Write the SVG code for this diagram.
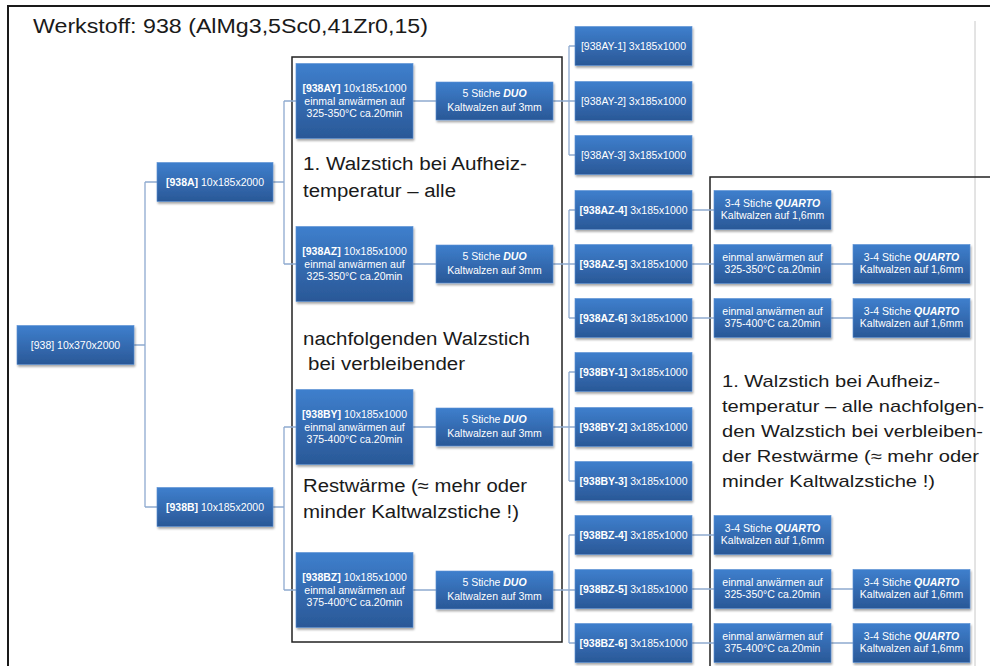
<svg xmlns="http://www.w3.org/2000/svg" width="990" height="666" viewBox="0 0 990 666">
<defs>
<linearGradient id="g" x1="0" y1="0" x2="0" y2="1">
<stop offset="0" stop-color="#3e7fcd"/>
<stop offset="1" stop-color="#2a5897"/>
</linearGradient>
<filter id="sh" x="-10%" y="-10%" width="125%" height="135%">
<feDropShadow dx="1" dy="2" stdDeviation="1.2" flood-color="#000" flood-opacity="0.35"/>
</filter>
<style>
.box{fill:url(#g);stroke:#5b90d3;stroke-width:0.6;filter:url(#sh)}
.t{font-family:"Liberation Sans",Arial,sans-serif;font-size:10.5px;fill:#fff;text-anchor:middle}
.b{font-weight:bold}
.bi{font-weight:bold;font-style:italic}
.con{stroke:#8eaad0;stroke-width:1.3;fill:none}
.big{font-family:"Liberation Sans",Arial,sans-serif;font-size:18px;fill:#1a1a1a}
.big2{font-family:"Liberation Sans",Arial,sans-serif;font-size:17px;fill:#1a1a1a}
.frame{fill:none;stroke:#1a1a1a;stroke-width:2}
.frame2{fill:none;stroke:#222;stroke-width:1.5}
</style>
</defs>
<rect x="0" y="0" width="990" height="666" fill="#fff"/>
<path class="frame" d="M8,666 V6 H990"/>
<line x1="975" y1="21" x2="975" y2="666" stroke="#c8c8c8" stroke-width="1"/>
<text class="big" x="33" y="33" textLength="395" lengthAdjust="spacingAndGlyphs" style="font-size:20px">Werkstoff: 938 (AlMg3,5Sc0,41Zr0,15)</text>

<rect class="frame2" x="292" y="57" width="270" height="585"/>
<path class="frame2" d="M990,177 H710 V666"/>

<g id="connectors">
<path class="con" d="M134,345 H145 M145,182 V507 M145,182 H157 M145,507 H157"/>
<path class="con" d="M273,182 H284 M284,101 V264 M284,101 H296 M284,264 H296"/>
<path class="con" d="M273,507 H284 M284,427 V590 M284,427 H296 M284,590 H296"/>
<path class="con" d="M413,101 H436 M413,264 H436 M413,427 H436 M413,590 H436"/>
<path class="con" d="M553,101 H569 M569,46 V155 M569,46 H575 M569,101 H575 M569,155 H575"/>
<path class="con" d="M553,264 H569 M569,210 V318 M569,210 H575 M569,264 H575 M569,318 H575"/>
<path class="con" d="M553,427 H569 M569,372 V481 M569,372 H575 M569,427 H575 M569,481 H575"/>
<path class="con" d="M553,590 H569 M569,535 V643 M569,535 H575 M569,590 H575 M569,643 H575"/>
<path class="con" d="M692,210 H714 M692,264 H714 M692,318 H714 M692,535 H714 M692,589 H714 M692,643 H714"/>
<path class="con" d="M831,264 H853 M831,318 H853 M831,589 H853 M831,643 H853"/>
</g>

<g id="n938"><rect class="box" x="17" y="325.5" width="117" height="39"/><text class="t" x="75.5" y="348.5">[938] 10x370x2000</text></g>
<g id="n938A"><rect class="box" x="157" y="162.5" width="116" height="39"/><text class="t" x="215" y="185.5"><tspan class="b">[938A]</tspan> 10x185x2000</text></g>
<g id="n938B"><rect class="box" x="157" y="487.5" width="116" height="39"/><text class="t" x="215" y="510.5"><tspan class="b">[938B]</tspan> 10x185x2000</text></g>

<g id="n938AY"><rect class="box" x="296" y="63.5" width="117" height="75"/><text class="t" x="354.5" y="92"><tspan class="b">[938AY]</tspan> 10x185x1000</text><text class="t" x="354.5" y="104.5">einmal anwärmen auf</text><text class="t" x="354.5" y="117">325-350°C ca.20min</text></g>
<g id="n938AZ"><rect class="box" x="296" y="226.5" width="117" height="75"/><text class="t" x="354.5" y="255"><tspan class="b">[938AZ]</tspan> 10x185x1000</text><text class="t" x="354.5" y="267.5">einmal anwärmen auf</text><text class="t" x="354.5" y="280">325-350°C ca.20min</text></g>
<g id="n938BY"><rect class="box" x="296" y="389.5" width="117" height="75"/><text class="t" x="354.5" y="418"><tspan class="b">[938BY]</tspan> 10x185x1000</text><text class="t" x="354.5" y="430.5">einmal anwärmen auf</text><text class="t" x="354.5" y="443">375-400°C ca.20min</text></g>
<g id="n938BZ"><rect class="box" x="296" y="552.5" width="117" height="75"/><text class="t" x="354.5" y="581"><tspan class="b">[938BZ]</tspan> 10x185x1000</text><text class="t" x="354.5" y="593.5">einmal anwärmen auf</text><text class="t" x="354.5" y="606">375-400°C ca.20min</text></g>

<g id="duoAY"><rect class="box" x="436" y="82" width="117" height="38"/><text class="t" x="494.5" y="97">5 Stiche <tspan class="bi">DUO</tspan></text><text class="t" x="494.5" y="110.5">Kaltwalzen auf 3mm</text></g>
<g id="duoAZ"><rect class="box" x="436" y="245" width="117" height="38"/><text class="t" x="494.5" y="260">5 Stiche <tspan class="bi">DUO</tspan></text><text class="t" x="494.5" y="273.5">Kaltwalzen auf 3mm</text></g>
<g id="duoBY"><rect class="box" x="436" y="408" width="117" height="38"/><text class="t" x="494.5" y="423">5 Stiche <tspan class="bi">DUO</tspan></text><text class="t" x="494.5" y="436.5">Kaltwalzen auf 3mm</text></g>
<g id="duoBZ"><rect class="box" x="436" y="571" width="117" height="38"/><text class="t" x="494.5" y="586">5 Stiche <tspan class="bi">DUO</tspan></text><text class="t" x="494.5" y="599.5">Kaltwalzen auf 3mm</text></g>

<g id="AY1"><rect class="box" x="575" y="26.5" width="117" height="39"/><text class="t" x="633.5" y="49.5">[938AY-1] 3x185x1000</text></g>
<g id="AY2"><rect class="box" x="575" y="81.5" width="117" height="39"/><text class="t" x="633.5" y="104.5">[938AY-2] 3x185x1000</text></g>
<g id="AY3"><rect class="box" x="575" y="135.5" width="117" height="39"/><text class="t" x="633.5" y="158.5">[938AY-3] 3x185x1000</text></g>
<g id="AZ4"><rect class="box" x="575" y="190.5" width="117" height="39"/><text class="t" x="633.5" y="213.5"><tspan class="b">[938AZ-4]</tspan> 3x185x1000</text></g>
<g id="AZ5"><rect class="box" x="575" y="244.5" width="117" height="39"/><text class="t" x="633.5" y="267.5"><tspan class="b">[938AZ-5]</tspan> 3x185x1000</text></g>
<g id="AZ6"><rect class="box" x="575" y="298.5" width="117" height="39"/><text class="t" x="633.5" y="321.5"><tspan class="b">[938AZ-6]</tspan> 3x185x1000</text></g>
<g id="BY1"><rect class="box" x="575" y="352.5" width="117" height="39"/><text class="t" x="633.5" y="375.5"><tspan class="b">[938BY-1]</tspan> 3x185x1000</text></g>
<g id="BY2"><rect class="box" x="575" y="407.5" width="117" height="39"/><text class="t" x="633.5" y="430.5"><tspan class="b">[938BY-2]</tspan> 3x185x1000</text></g>
<g id="BY3"><rect class="box" x="575" y="461.5" width="117" height="39"/><text class="t" x="633.5" y="484.5"><tspan class="b">[938BY-3]</tspan> 3x185x1000</text></g>
<g id="BZ4"><rect class="box" x="575" y="515.5" width="117" height="39"/><text class="t" x="633.5" y="538.5"><tspan class="b">[938BZ-4]</tspan> 3x185x1000</text></g>
<g id="BZ5"><rect class="box" x="575" y="569.5" width="117" height="39"/><text class="t" x="633.5" y="592.5"><tspan class="b">[938BZ-5]</tspan> 3x185x1000</text></g>
<g id="BZ6"><rect class="box" x="575" y="623.5" width="117" height="39"/><text class="t" x="633.5" y="646.5"><tspan class="b">[938BZ-6]</tspan> 3x185x1000</text></g>

<g id="qAZ4"><rect class="box" x="714" y="190.5" width="117" height="39"/><text class="t" x="772.5" y="206.5">3-4 Stiche <tspan class="bi">QUARTO</tspan></text><text class="t" x="772.5" y="218.5">Kaltwalzen auf 1,6mm</text></g>
<g id="hAZ5"><rect class="box" x="714" y="244.5" width="117" height="39"/><text class="t" x="772.5" y="260.5">einmal anwärmen auf</text><text class="t" x="772.5" y="272.5">325-350°C ca.20min</text></g>
<g id="hAZ6"><rect class="box" x="714" y="298.5" width="117" height="39"/><text class="t" x="772.5" y="314.5">einmal anwärmen auf</text><text class="t" x="772.5" y="326.5">375-400°C ca.20min</text></g>
<g id="qBZ4"><rect class="box" x="714" y="515.5" width="117" height="39"/><text class="t" x="772.5" y="531.5">3-4 Stiche <tspan class="bi">QUARTO</tspan></text><text class="t" x="772.5" y="543.5">Kaltwalzen auf 1,6mm</text></g>
<g id="hBZ5"><rect class="box" x="714" y="569.5" width="117" height="39"/><text class="t" x="772.5" y="585.5">einmal anwärmen auf</text><text class="t" x="772.5" y="597.5">325-350°C ca.20min</text></g>
<g id="hBZ6"><rect class="box" x="714" y="623.5" width="117" height="39"/><text class="t" x="772.5" y="639.5">einmal anwärmen auf</text><text class="t" x="772.5" y="651.5">375-400°C ca.20min</text></g>

<g id="qAZ5"><rect class="box" x="853" y="244.5" width="117" height="39"/><text class="t" x="911.5" y="260.5">3-4 Stiche <tspan class="bi">QUARTO</tspan></text><text class="t" x="911.5" y="272.5">Kaltwalzen auf 1,6mm</text></g>
<g id="qAZ6"><rect class="box" x="853" y="298.5" width="117" height="39"/><text class="t" x="911.5" y="314.5">3-4 Stiche <tspan class="bi">QUARTO</tspan></text><text class="t" x="911.5" y="326.5">Kaltwalzen auf 1,6mm</text></g>
<g id="qBZ5"><rect class="box" x="853" y="569.5" width="117" height="39"/><text class="t" x="911.5" y="585.5">3-4 Stiche <tspan class="bi">QUARTO</tspan></text><text class="t" x="911.5" y="597.5">Kaltwalzen auf 1,6mm</text></g>
<g id="qBZ6"><rect class="box" x="853" y="623.5" width="117" height="39"/><text class="t" x="911.5" y="639.5">3-4 Stiche <tspan class="bi">QUARTO</tspan></text><text class="t" x="911.5" y="651.5">Kaltwalzen auf 1,6mm</text></g>

<g id="note-middle">
<text class="big" x="303" y="170" textLength="224" lengthAdjust="spacingAndGlyphs">1. Walzstich bei Aufheiz-</text>
<text class="big" x="303" y="197" textLength="153" lengthAdjust="spacingAndGlyphs">temperatur – alle</text>
<text class="big" x="303" y="345" textLength="227" lengthAdjust="spacingAndGlyphs">nachfolgenden Walzstich</text>
<text class="big" x="308" y="370" textLength="157" lengthAdjust="spacingAndGlyphs">bei verbleibender</text>
<text class="big" x="303" y="492" textLength="224" lengthAdjust="spacingAndGlyphs">Restwärme (≈ mehr oder</text>
<text class="big" x="303" y="518" textLength="216" lengthAdjust="spacingAndGlyphs">minder Kaltwalzstiche !)</text>
</g>
<g id="note-right">
<text class="big2" x="722" y="387" textLength="218" lengthAdjust="spacingAndGlyphs">1. Walzstich bei Aufheiz-</text>
<text class="big2" x="722" y="412" textLength="262" lengthAdjust="spacingAndGlyphs">temperatur – alle nachfolgen-</text>
<text class="big2" x="722" y="437" textLength="261" lengthAdjust="spacingAndGlyphs">den Walzstich bei verbleiben-</text>
<text class="big2" x="722" y="462" textLength="257" lengthAdjust="spacingAndGlyphs">der Restwärme (≈ mehr oder</text>
<text class="big2" x="722" y="487" textLength="213" lengthAdjust="spacingAndGlyphs">minder Kaltwalzstiche !)</text>
</g>
</svg>
